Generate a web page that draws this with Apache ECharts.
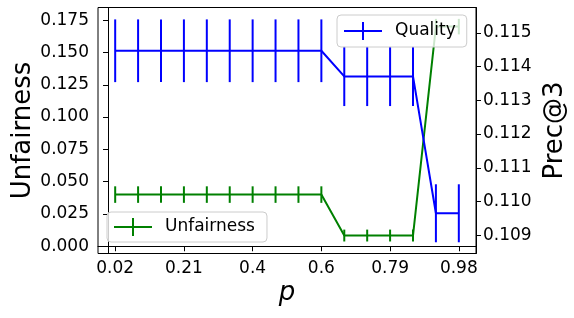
<!DOCTYPE html>
<html>
<head>
<meta charset="utf-8">
<script src="https://cdn.jsdelivr.net/npm/echarts@6/dist/echarts.min.js"></script>
<style>html,body{margin:0;padding:0;background:#fff}#c{width:574px;height:318px}</style>
</head>
<body>
<div id="c"></div>
<script>
const pValues = [0.02, 0.084, 0.148, 0.212, 0.276, 0.34, 0.404, 0.468, 0.532, 0.596, 0.66, 0.724, 0.788, 0.852, 0.916, 0.98];
const xTickValues = [0.02, 0.212, 0.404, 0.596, 0.788, 0.98];
const xTickLabels = ['0.02', '0.21', '0.4', '0.6', '0.79', '0.98'];
const unfairness = [0.040, 0.040, 0.040, 0.040, 0.040, 0.040, 0.040, 0.040, 0.040, 0.040, 0.0083, 0.0083, 0.0083, 0.0083, 0.170, 0.170];
const unfairnessErr = [0.0064, 0.0064, 0.0064, 0.0064, 0.0064, 0.0064, 0.0064, 0.0064, 0.0064, 0.0064, 0.0046, 0.0046, 0.0046, 0.0046, 0.006, 0.006];
const quality = [0.11447, 0.11447, 0.11447, 0.11447, 0.11447, 0.11447, 0.11447, 0.11447, 0.11447, 0.11447, 0.11371, 0.11371, 0.11371, 0.11371, 0.10965, 0.10965];
const qualityErr = [0.00093, 0.00093, 0.00093, 0.00093, 0.00093, 0.00093, 0.00093, 0.00093, 0.00093, 0.00093, 0.00088, 0.00088, 0.00088, 0.00088, 0.00086, 0.00086];
const leftTicks = [0, 0.025, 0.05, 0.075, 0.1, 0.125, 0.15, 0.175];
const rightTicks = [0.109, 0.110, 0.111, 0.112, 0.113, 0.114, 0.115];

const FONT = 'DejaVu Sans';
const crossIcon = 'path://M0,8h38v2h-38z M18,0h2v18h-2z';

function errSeries(name, vals, errs, color, yIdx, z) {
  return {
    type: 'custom', name: name, yAxisIndex: yIdx, z: z, silent: true,
    encode: { x: 0, y: 1 },
    data: pValues.map((p, i) => [p, vals[i], errs[i]]),
    renderItem: function (params, api) {
      const x = api.value(0), y = api.value(1), e = api.value(2);
      const a = api.coord([x, y - e]);
      const b = api.coord([x, y + e]);
      return { type: 'line', shape: { x1: a[0], y1: a[1], x2: b[0], y2: b[1] },
        style: { stroke: color, lineWidth: 2 } };
    }
  };
}

const chart = echarts.init(document.getElementById('c'));
chart.setOption({
  animation: false,
  backgroundColor: '#fff',
  textStyle: { fontFamily: FONT },
  grid: { left: 98, top: 7.5, width: 378, height: 246, containLabel: false, outerBoundsMode: 'none',
    show: true, borderColor: '#000', borderWidth: 1, backgroundColor: 'transparent' },
  legend: [
    {
      data: [{ name: 'Unfairness', icon: crossIcon }],
      left: 107, top: 212, z: 2,
      itemWidth: 38, itemHeight: 18, symbolKeepAspect: false,
      padding: [6, 12, 6, 7],
      backgroundColor: 'rgba(255,255,255,0.8)', borderColor: '#cccccc', borderWidth: 1, borderRadius: 4,
      textStyle: { fontFamily: FONT, fontSize: 17, color: '#000', padding: [0, 0, 0, 8] },
      selectedMode: false
    },
    {
      data: [{ name: 'Quality', icon: crossIcon }],
      left: 337, top: 15, z: 6,
      itemWidth: 38, itemHeight: 18, symbolKeepAspect: false,
      padding: [7, 11, 7, 7],
      backgroundColor: 'rgba(255,255,255,0.8)', borderColor: '#cccccc', borderWidth: 1, borderRadius: 4,
      textStyle: { fontFamily: FONT, fontSize: 17, color: '#000', padding: [0, 0, 0, 8] },
      selectedMode: false
    }
  ],
  xAxis: {
    type: 'value', min: -0.028, max: 1.028,
    name: 'p', nameLocation: 'middle', nameGap: 27, nameMoveOverlap: false,
    nameTextStyle: { fontFamily: FONT, fontSize: 26, fontStyle: 'italic', color: '#000' },
    axisLine: { show: true, lineStyle: { color: '#000', width: 1 } },
    axisTick: { show: true, inside: false, length: 5, customValues: xTickValues, lineStyle: { color: '#000', width: 1 } },
    axisLabel: { customValues: xTickValues, margin: 7, fontFamily: FONT, fontSize: 17, color: '#000',
      formatter: function (v) {
        let best = 0;
        for (let i = 0; i < xTickValues.length; i++) if (Math.abs(xTickValues[i] - v) < Math.abs(xTickValues[best] - v)) best = i;
        return xTickLabels[best];
      } },
    splitLine: { show: false }
  },
  yAxis: [
    {
      type: 'value', position: 'left', min: -0.0056, max: 0.1848,
      name: 'Unfairness', nameLocation: 'middle', nameGap: 62, nameRotate: 90, nameMoveOverlap: false,
      nameTextStyle: { fontFamily: FONT, fontSize: 26, color: '#000' },
      axisLine: { show: true, lineStyle: { color: '#000', width: 1 } },
      axisTick: { show: true, inside: false, length: 5, customValues: leftTicks, lineStyle: { color: '#000', width: 1 } },
      axisLabel: { customValues: leftTicks, margin: 9, fontFamily: FONT, fontSize: 17, color: '#000',
        formatter: function (v) { return v.toFixed(3); } },
      splitLine: { show: false }
    },
    {
      type: 'value', position: 'right', min: 0.108457, max: 0.115753,
      name: 'Prec@3', nameLocation: 'middle', nameGap: 62, nameRotate: 90,
      nameTextStyle: { fontFamily: FONT, fontSize: 26, color: '#000' },
      axisLine: { show: true, lineStyle: { color: '#000', width: 1 } },
      axisTick: { show: true, inside: false, length: 5, customValues: rightTicks, lineStyle: { color: '#000', width: 1 } },
      axisLabel: { customValues: rightTicks, margin: 7, fontFamily: FONT, fontSize: 17, color: '#000',
        formatter: function (v) { return v.toFixed(3); } },
      splitLine: { show: false }
    }
  ],
  series: [
    {
      type: 'line', name: 'Unfairness', yAxisIndex: 0, z: 1,
      data: pValues.map((p, i) => [p, unfairness[i]]),
      symbol: 'none', color: '#008000',
      lineStyle: { color: '#008000', width: 2 }
    },
    errSeries('UnfairnessErr', unfairness, unfairnessErr, '#008000', 0, 1),
    {
      type: 'line', name: 'Quality', yAxisIndex: 1, z: 4,
      data: pValues.map((p, i) => [p, quality[i]]),
      symbol: 'none', color: '#0000ff',
      lineStyle: { color: '#0000ff', width: 2 }
    },
    errSeries('QualityErr', quality, qualityErr, '#0000ff', 1, 4)
  ]
});
</script>
</body>
</html>
